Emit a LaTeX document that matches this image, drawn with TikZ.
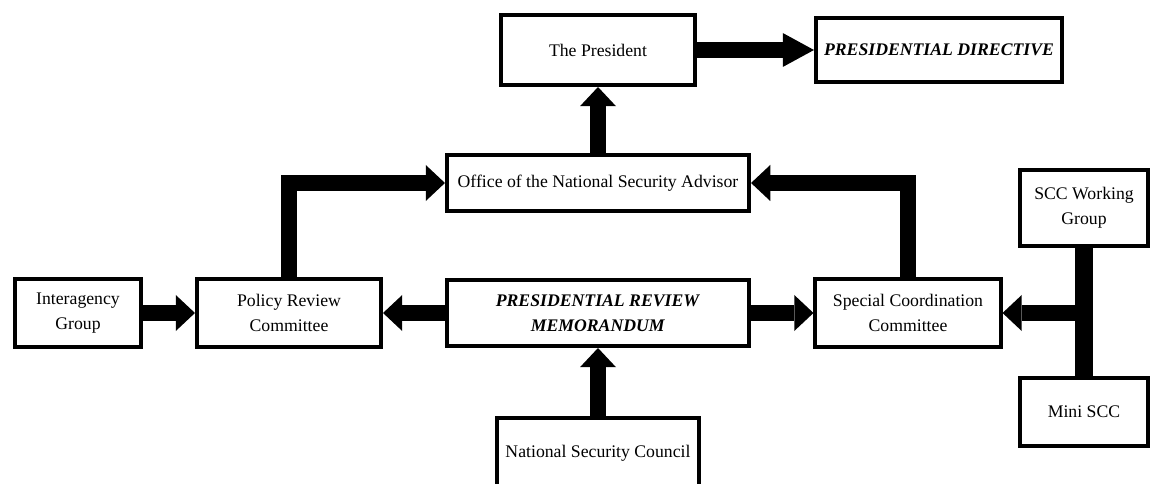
\documentclass[tikz,border=0pt]{standalone}
\usepackage{fontspec}
\setmainfont{Liberation Serif}
\usetikzlibrary{arrows.meta}

\begin{document}
\begin{tikzpicture}[x=0.025cm, y=-0.025cm,
    box/.style={draw, line width=0.1cm, fill=white, align=center, inner sep=0pt,
        font=\fontsize{12.6}{17.5}\selectfont},
    bigarrow/.style={line width=0.41cm, line join=miter,
        -{Triangle[width=0.9cm, length=0.48cm, line width=0pt]}}]
\clip (0,0) rectangle (1152,484);

% Top row
\node[box, minimum width=4.85cm, minimum height=1.75cm] (pres) at (598,50) {The President};
\node[box, minimum width=6.15cm, minimum height=1.6cm] (pd) at (939,50) {\textbf{\textit{PRESIDENTIAL DIRECTIVE}}};
\node[box, minimum width=7.55cm, minimum height=1.4cm] (onsa) at (598,183) {Office of the National Security Advisor};

% Middle row
\node[box, minimum width=3.15cm, minimum height=1.7cm] (ig) at (78,313) {Interagency\\Group};
\node[box, minimum width=4.6cm, minimum height=1.675cm] (prc) at (289,313) {Policy Review\\Committee};
\node[box, minimum width=7.525cm, minimum height=1.65cm] (prm) at (598,313) {\textbf{\textit{PRESIDENTIAL REVIEW}}\\\textbf{\textit{MEMORANDUM}}};
\node[box, minimum width=4.625cm, minimum height=1.7cm] (scc) at (908,313) {Special Coordination\\Committee};

% Right column
\node[box, minimum width=3.2cm, minimum height=1.875cm] (sccwg) at (1084,208) {SCC Working\\Group};
\node[box, minimum width=3.2cm, minimum height=1.7cm] (mini) at (1084,412) {Mini SCC};

% Bottom
\node[box, minimum width=5.05cm, minimum height=1.75cm] (nsc) at (598,453) {National Security Council};

% Arrows
\draw[bigarrow, -{Triangle[width=0.85cm, length=0.78cm, line width=0pt]}] (pres.east) -- (pd.west);
\draw[bigarrow] (onsa.north) -- (pres.south);
\draw[bigarrow] (prc.north) |- (onsa.west);
\draw[bigarrow] (scc.north) |- (onsa.east);
\draw[bigarrow] (ig.east) -- (prc.west);
\draw[bigarrow] (prm.west) -- (prc.east);
\draw[bigarrow] (prm.east) -- (scc.west);
\draw[bigarrow] (nsc.north) -- (prm.south);

% SCC groups feeding in
\draw[line width=0.43cm] (sccwg.south) -- (mini.north);
\coordinate (join) at (sccwg.south |- scc.east);
\draw[bigarrow] (join) -- (scc.east);
\end{tikzpicture}
\end{document}
